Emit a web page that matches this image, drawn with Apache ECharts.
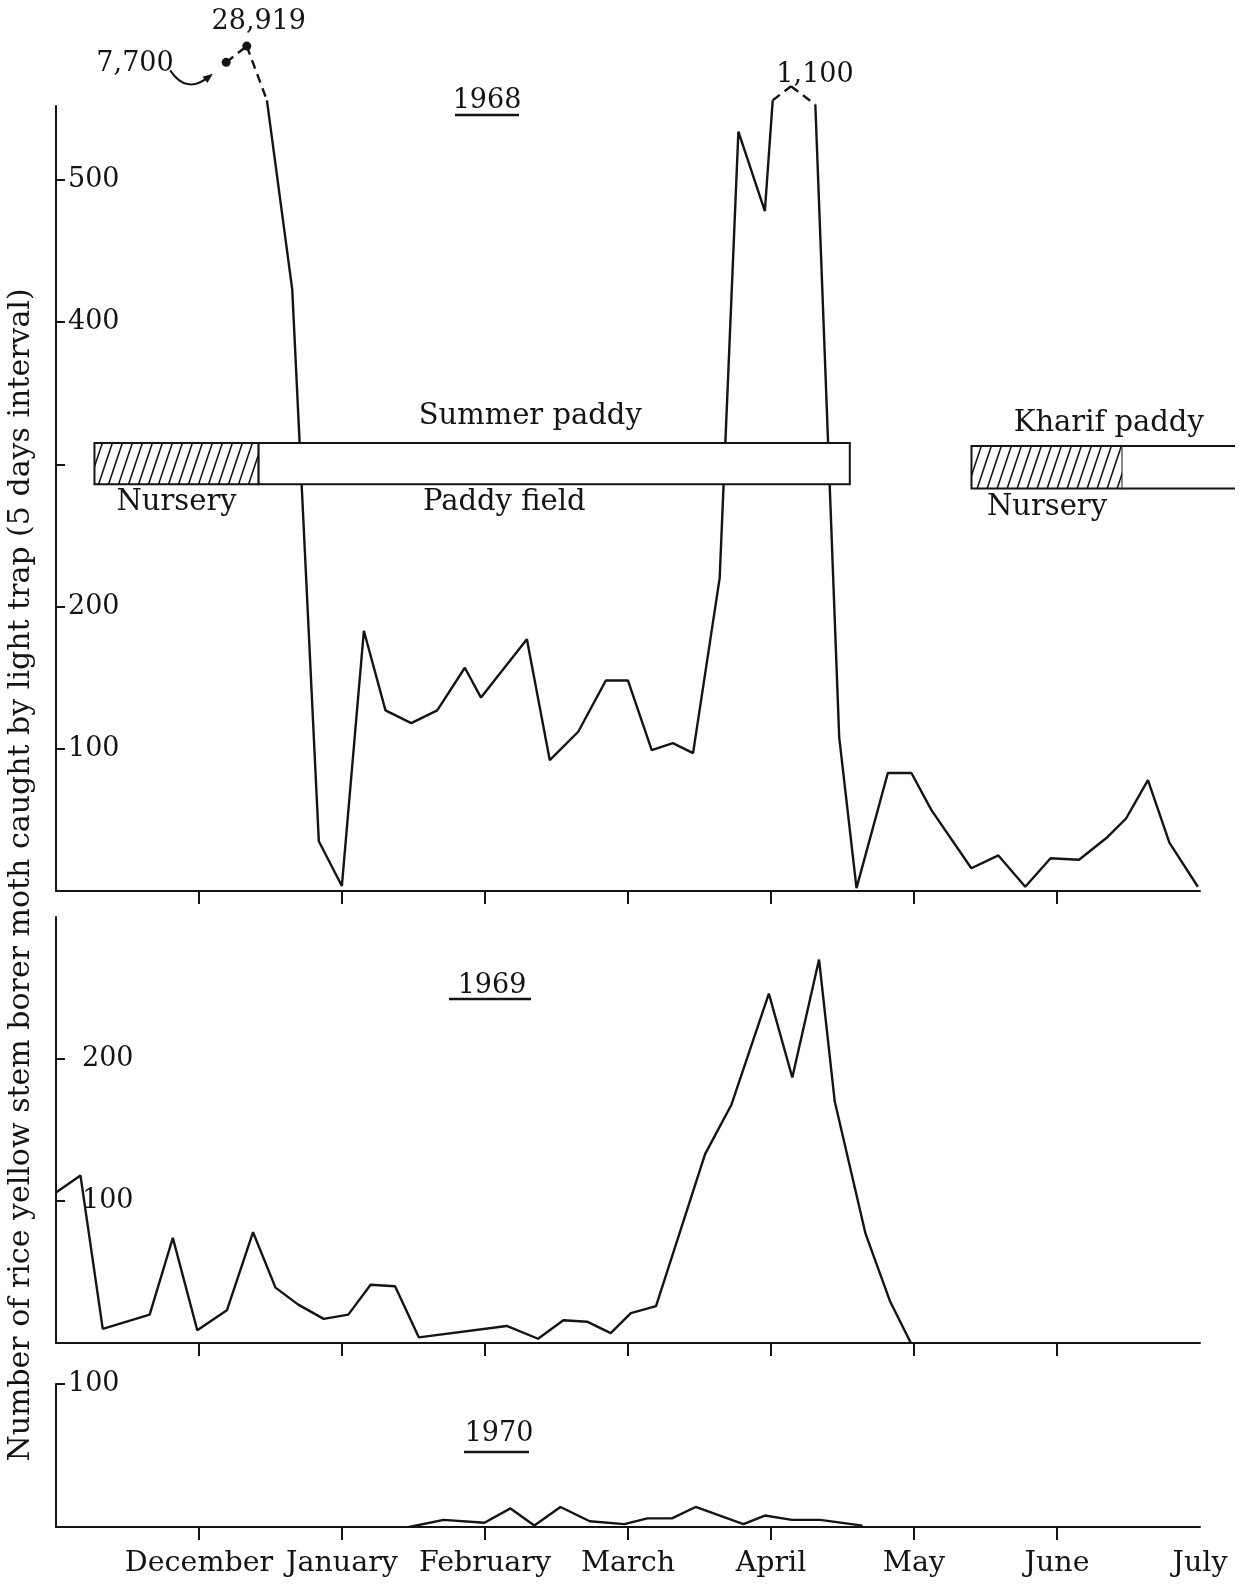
<!DOCTYPE html>
<html>
<head>
<meta charset="utf-8">
<script src="https://cdn.jsdelivr.net/npm/echarts@6/dist/echarts.min.js"></script>
<style>
html,body{margin:0;padding:0;background:#fff;}
#chart{width:1245px;height:1590px;}
</style>
</head>
<body>
<div id="chart"></div>
<script>
// ---------------- data (x = months since 1 November; 1 = December ... 8 = July) ----------------
const monthLabels = ['', 'December', 'January', 'February', 'March', 'April', 'May', 'June', 'July'];

const x1968 = [1.19, 1.334, 1.475, 1.652, 1.838, 1.999, 2.153, 2.304, 2.484, 2.666, 2.859, 2.972, 3.293, 3.453, 3.652, 3.845, 4.0, 4.166, 4.314, 4.455, 4.641, 4.772, 4.957, 5.012, 5.14, 5.31, 5.477, 5.598, 5.817, 5.982, 6.121, 6.401, 6.59, 6.778, 6.955, 7.154, 7.354, 7.483, 7.636, 7.786, 7.985];
const y1968 = [7700, 28919, 556, 423, 35, 3.5, 183, 127, 118, 127, 157, 136, 177, 92, 112, 148, 148, 99, 104, 97, 220, 534, 478, 556, 1100, 553, 108, 2, 83, 83, 57, 16, 25, 3, 23, 22, 38, 51, 78, 34, 3];

const x1969 = [0, 0.171, 0.327, 0.655, 0.817, 0.988, 1.195, 1.378, 1.535, 1.694, 1.872, 2.044, 2.2, 2.371, 2.537, 3.152, 3.371, 3.548, 3.714, 3.879, 4.02, 4.196, 4.539, 4.724, 4.985, 5.149, 5.336, 5.446, 5.661, 5.834, 5.978];
const y1969 = [106, 118, 10, 20, 74, 9, 23, 78, 39, 27, 17, 20, 41, 40, 4, 12, 3, 16, 15, 7, 21, 26, 133, 168, 246, 187, 270, 170, 77, 29, 0];

const x1970 = [2.469, 2.711, 2.996, 3.178, 3.345, 3.528, 3.732, 3.974, 4.135, 4.307, 4.473, 4.807, 4.957, 5.146, 5.344, 5.64];
const y1970 = [0, 5, 3, 13, 1, 14, 4, 2, 6, 6, 14, 2, 8, 5, 5, 1];

// crop calendar (1968 panel)
const phaseStart   = [0.269, 1.417, 6.402, 7.458];
const phaseEnd     = [1.417, 5.551, 7.458, 8.245];
const phaseHatched = [1, 0, 1, 0];
const phaseOpenEnd = [0, 0, 0, 1];
const phaseSeason  = [0, 0, 1, 1];
const phaseBelow   = ['Nursery', 'Paddy field', 'Nursery', ''];
const phaseAbove   = ['', 'Summer paddy', '', 'Kharif paddy'];

const yearTitles = ['1968', '1969', '1970'];
const yTickValues  = [[100, 200, 300, 400, 500], [100, 200], [100]];
const yLabelValues = [[100, 200, 400, 500], [100, 200], [100]];
const yAxisTitle = 'Number of rice yellow stem borer moth caught by light trap (5 days interval)';

// ---------------- layout / style ----------------
const INK = '#141414';
const FONT = '"DejaVu Serif", "Liberation Serif", serif';
const grids = [
  {left: 56, top: 106, width: 1144, height: 785},
  {left: 56, top: 917, width: 1144, height: 426},
  {left: 56, top: 1384, width: 1144, height: 143}
];
const yMax = [552, 300, 100];
const yLabelMargin = [12, 26, 12];
const bandValues = [[286, 315], [283, 313]];
const belowGap = [18, 19], aboveGap = [27, 22];
const aboveShift = [0, -24, 0, -70], belowShift = [0, -50, 0, 0];
const yearTitlePos = [[487, 101, 455, 519, 115], [492, 986, 449, 531, 999], [499, 1434, 464, 529, 1452]];

const OFF_SCALE = 600;
function brokenScale(v) { return v > OFF_SCALE ? 560 + 6 * Math.log2(v / 560) : v; }
const isOff = v => v > OFF_SCALE;

const dottedPoints1968 = [0, 1];
const annotationLayout = {
  0: {position: 'left', distance: 48, offset: [0, 2]},
  1: {position: 'top', distance: 6, offset: [12, 0]},
  24: {position: 'top', distance: 4, offset: [24, 6]}
};

// ---------------- build series data ----------------
const solid1968 = x1968.map((x, i) => [x, isOff(y1968[i]) ? '-' : y1968[i]]);
const dashed1968 = [];
for (let i = 0; i < x1968.length - 1; i++) {
  if (isOff(y1968[i]) || isOff(y1968[i + 1])) {
    dashed1968.push([x1968[i], brokenScale(y1968[i])]);
    dashed1968.push([x1968[i + 1], brokenScale(y1968[i + 1])]);
    dashed1968.push([x1968[i + 1], '-']);
  }
}
const annot1968 = [];
y1968.forEach((v, i) => {
  if (!isOff(v)) return;
  const lay = annotationLayout[i] || {position: 'top'};
  annot1968.push({
    value: [x1968[i], brokenScale(v)],
    symbolSize: dottedPoints1968.includes(i) ? 9 : 0,
    label: Object.assign({show: true, formatter: v.toLocaleString('en-US'), fontSize: 27, fontFamily: FONT,
      color: INK, opacity: 1}, lay)
  });
});
const line1969 = x1969.map((x, i) => [x, y1969[i]]);
const line1970 = x1970.map((x, i) => [x, y1970[i]]);
const phaseData = phaseStart.map((s, i) => [s, phaseEnd[i], i]);

function hatchCanvas() {
  const c = document.createElement('canvas');
  c.width = 10; c.height = 30;
  const g = c.getContext('2d');
  g.fillStyle = '#fff'; g.fillRect(0, 0, 10, 30);
  g.strokeStyle = INK; g.lineWidth = 1.6;
  [-10, 0, 10].forEach(dx => { g.beginPath(); g.moveTo(dx, 30); g.lineTo(dx + 10, 0); g.stroke(); });
  return c;
}
const hatch = {image: hatchCanvas(), repeat: 'repeat'};

function renderPhase(params, api) {
  const i = api.value(2);
  const band = bandValues[phaseSeason[i]];
  const tl = api.coord([api.value(0), band[1]]);
  const br = api.coord([api.value(1), band[0]]);
  const w = br[0] - tl[0], h = br[1] - tl[1];
  const children = [];
  if (phaseOpenEnd[i]) {
    children.push({type: 'rect', shape: {x: tl[0], y: tl[1], width: w, height: h}, style: {fill: '#fff'}});
    children.push({type: 'line', shape: {x1: tl[0], y1: tl[1], x2: br[0], y2: tl[1]}, style: {stroke: INK, lineWidth: 2}});
    children.push({type: 'line', shape: {x1: tl[0], y1: br[1], x2: br[0], y2: br[1]}, style: {stroke: INK, lineWidth: 2}});
  } else {
    children.push({type: 'rect', shape: {x: tl[0], y: tl[1], width: w, height: h},
      style: {fill: phaseHatched[i] ? hatch : '#fff', stroke: INK, lineWidth: 2}});
  }
  const cx = (tl[0] + br[0]) / 2;
  const s = phaseSeason[i];
  if (phaseBelow[i]) children.push({type: 'text', x: cx + belowShift[i], y: br[1] + belowGap[s],
    style: {text: phaseBelow[i], font: '29px ' + FONT, fill: INK, align: 'center', verticalAlign: 'middle'}});
  if (phaseAbove[i]) children.push({type: 'text', x: cx + aboveShift[i], y: tl[1] - aboveGap[s],
    style: {text: phaseAbove[i], font: '29px ' + FONT, fill: INK, align: 'center', verticalAlign: 'middle'}});
  return {type: 'group', children};
}

const tickMonths = monthLabels.map((m, i) => i).filter(i => i >= 1 && i < monthLabels.length - 1);
const labelMonths = monthLabels.map((m, i) => i).filter(i => monthLabels[i]);

const chart = echarts.init(document.getElementById('chart'), null, {renderer: 'canvas'});
const option = {
  animation: false,
  backgroundColor: '#fff',
  textStyle: {fontFamily: FONT, color: INK},
  grid: grids.map(g => Object.assign({outerBoundsMode: 'none', containLabel: false}, g)),
  xAxis: [0, 1, 2].map(g => ({
    type: 'value', gridIndex: g, min: 0, max: monthLabels.length - 1,
    splitLine: {show: false},
    axisLine: {show: true, onZero: false, lineStyle: {color: INK, width: 2}},
    axisTick: {show: true, inside: false, length: 13, customValues: tickMonths, lineStyle: {color: INK, width: 2}},
    axisLabel: g === 2 ? {show: true, customValues: labelMonths, formatter: v => monthLabels[Math.round(v)],
      margin: 22, fontSize: 28.5, fontFamily: FONT, color: INK} : {show: false}
  })),
  yAxis: [0, 1, 2].map(g => ({
    type: 'value', gridIndex: g, min: 0, max: yMax[g],
    splitLine: {show: false},
    axisLine: {show: true, lineStyle: {color: INK, width: 2}},
    axisTick: {show: true, inside: true, length: 9, customValues: yTickValues[g], lineStyle: {color: INK, width: 2}},
    axisLabel: {show: true, inside: true, margin: yLabelMargin[g], customValues: yLabelValues[g],
      fontSize: 27, fontFamily: FONT, color: INK}
  })),
  series: [
    {type: 'line', name: '1968', xAxisIndex: 0, yAxisIndex: 0, data: solid1968, showSymbol: false, clip: false,
      lineStyle: {color: INK, width: 2.4}, z: 2},
    {type: 'line', name: '1968 off-scale', xAxisIndex: 0, yAxisIndex: 0, data: dashed1968, showSymbol: false, clip: false,
      lineStyle: {color: INK, width: 2.4, type: [9, 6]}, z: 2},
    {type: 'scatter', name: '1968 labels', xAxisIndex: 0, yAxisIndex: 0, data: annot1968, clip: false,
      itemStyle: {color: INK, opacity: 1}, z: 3},
    {type: 'custom', name: 'crop calendar', xAxisIndex: 0, yAxisIndex: 0, data: phaseData, renderItem: renderPhase,
      clip: false, z: 5, encode: {x: [0, 1]}},
    {type: 'line', name: '1969', xAxisIndex: 1, yAxisIndex: 1, data: line1969, showSymbol: false,
      lineStyle: {color: INK, width: 2.4}},
    {type: 'line', name: '1970', xAxisIndex: 2, yAxisIndex: 2, data: line1970, showSymbol: false,
      lineStyle: {color: INK, width: 2.4}}
  ]
};
chart.setOption(option);

// ---------------- annotations (titles, axis title, curved arrow) ----------------
const graphics = [];
yearTitles.forEach((t, i) => {
  const p = yearTitlePos[i];
  graphics.push({type: 'text', x: p[0], y: p[1], style: {text: t, font: '27px ' + FONT, fill: INK, align: 'center', verticalAlign: 'middle'}});
  graphics.push({type: 'line', shape: {x1: p[2], y1: p[4], x2: p[3], y2: p[4]}, style: {stroke: INK, lineWidth: 2.5}});
});
graphics.push({type: 'text', x: 21, y: 875, rotation: Math.PI / 2,
  style: {text: yAxisTitle, font: '30px ' + FONT, fill: INK, align: 'center', verticalAlign: 'middle'}});
const pA = chart.convertToPixel({gridIndex: 0}, [x1968[0], brokenScale(y1968[0])]);
const a0 = [pA[0] - 56, pA[1] + 8], ac = [pA[0] - 40, pA[1] + 32], a1 = [pA[0] - 18, pA[1] + 15];
graphics.push({type: 'bezierCurve', shape: {x1: a0[0], y1: a0[1], cpx1: ac[0], cpy1: ac[1], x2: a1[0], y2: a1[1]},
  style: {stroke: INK, lineWidth: 2, fill: null}});
const dx = a1[0] - ac[0], dy = a1[1] - ac[1], dl = Math.hypot(dx, dy), ux = dx / dl, uy = dy / dl;
graphics.push({type: 'polygon', shape: {points: [
  [a1[0] + ux * 6, a1[1] + uy * 6],
  [a1[0] - ux * 4 - uy * 4, a1[1] - uy * 4 + ux * 4],
  [a1[0] - ux * 4 + uy * 4, a1[1] - uy * 4 - ux * 4]
]}, style: {fill: INK}});
chart.setOption({graphic: {elements: graphics}});
</script>
</body>
</html>
